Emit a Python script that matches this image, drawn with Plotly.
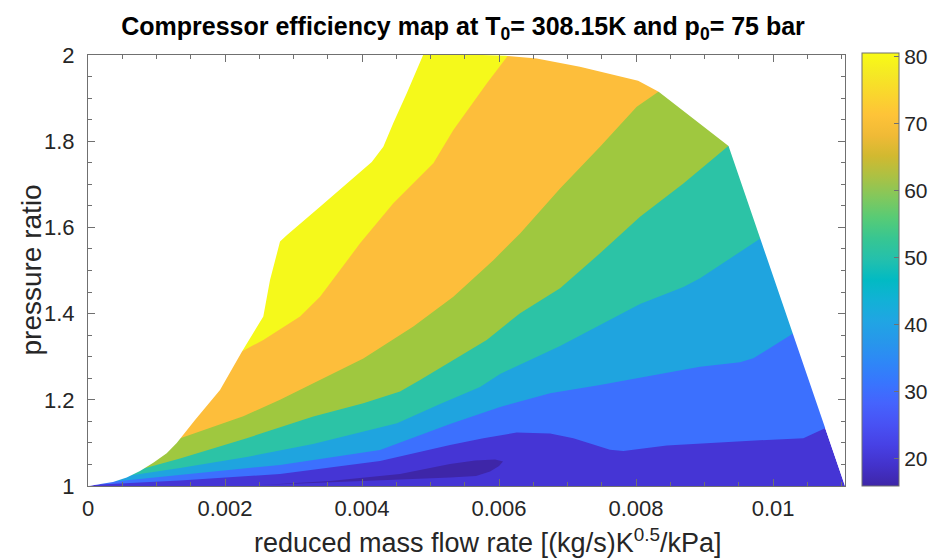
import plotly.graph_objects as go

# ---------------- data ----------------
# outer boundary of the map (left curve, top, right edge)
edge_x = [0, 0.000175, 0.000365, 0.000565, 0.000759, 0.000953, 0.001149, 0.001295, 0.001441, 0.001562,
          0.001927, 0.002244, 0.002559, 0.002657, 0.002803, 0.002901, 0.003387, 0.003777, 0.004142,
          0.004311, 0.004457, 0.004653, 0.004905, 0.0061, 0.00655, 0.00718, 0.00803, 0.00833, 0.00935, 0.01105]
edge_y = [1.0, 1.004, 1.009, 1.020, 1.035, 1.054, 1.076, 1.100, 1.130, 1.153,
          1.223, 1.311, 1.393, 1.478, 1.567, 1.582, 1.648, 1.702, 1.752,
          1.787, 1.842, 1.911, 2.005, 1.998, 1.992, 1.973, 1.940, 1.915, 1.789, 1.0]

# region below 20 % (closed blob)
blob_x = [0.002540, 0.003533, 0.004555, 0.005285, 0.005650, 0.005942, 0.006058, 0.006000, 0.005869,
          0.005664, 0.005285, 0.004555, 0.003533, 0.002540]
blob_y = [1.0023, 1.0116, 1.0278, 1.0510, 1.0592, 1.0615, 1.0568, 1.0464, 1.0336,
          1.0232, 1.0197, 1.0151, 1.0070, 1.0023]

# contour lines (efficiency levels, %)
c30_x = [0.000175, 0.001343, 0.002803, 0.004263, 0.005285, 0.005771, 0.006258, 0.006745, 0.007085,
         0.007620, 0.007815, 0.008448, 0.009908, 0.010442, 0.010774]
c30_y = [1.0035, 1.0128, 1.0278, 1.058, 1.095, 1.111, 1.124, 1.122, 1.111,
         1.084, 1.081, 1.094, 1.107, 1.111, 1.135]

c40_x = [0.000248, 0.001343, 0.002803, 0.004263, 0.005285, 0.006015, 0.006745, 0.007474, 0.007961,
         0.008934, 0.009518, 0.009712, 0.010304]
c40_y = [1.008, 1.0255, 1.049, 1.0835, 1.1439, 1.1833, 1.2151, 1.2343, 1.2483,
         1.2768, 1.2870, 1.2963, 1.355]

c50_x = [0.000467, 0.001343, 0.002317, 0.003285, 0.004511, 0.005139, 0.005723, 0.006015, 0.006891,
         0.008058, 0.008691, 0.008934, 0.009825]
c50_y = [1.0209, 1.0418, 1.0673, 1.0974, 1.1455, 1.1903, 1.2297, 1.2600, 1.3248,
         1.4223, 1.4617, 1.4819, 1.5754]

c60_x = [0.000734, 0.001343, 0.002317, 0.003289, 0.004019, 0.004555, 0.004847, 0.005333, 0.005820,
         0.006307, 0.006891, 0.007474, 0.008058, 0.008691, 0.009347]
c60_y = [1.037, 1.064, 1.111, 1.161, 1.192, 1.219, 1.246, 1.292, 1.339,
         1.401, 1.459, 1.540, 1.625, 1.702, 1.789]

c70_x = [0.001295, 0.001829, 0.002267, 0.002803, 0.003387, 0.004019, 0.004749, 0.005333, 0.005917,
         0.006307, 0.006891, 0.007474, 0.008010, 0.008326]
c70_y = [1.108, 1.138, 1.162, 1.200, 1.246, 1.296, 1.370, 1.439, 1.524,
         1.586, 1.690, 1.787, 1.880, 1.915]

c80_x = [0.002244, 0.002559, 0.003095, 0.003387, 0.003971, 0.004457, 0.005041, 0.005333, 0.005820, 0.006136]
c80_y = [1.312, 1.339, 1.393, 1.439, 1.563, 1.656, 1.749, 1.826, 1.934, 2.000]

levels = [30, 40, 50, 60, 70, 80]
band_colors = {15: "#3E26A8", 20: "#4535D5", 30: "#3C70FE", 40: "#1FA4DF",
               50: "#2CC3A6", 60: "#9FC83F", 70: "#FDBE3B", 80: "#F5F91B"}

x_ticks = [0, 0.002, 0.004, 0.006, 0.008, 0.01]
x_labels = ["0", "0.002", "0.004", "0.006", "0.008", "0.01"]
y_ticks = [1, 1.2, 1.4, 1.6, 1.8, 2]
y_labels = ["1", "1.2", "1.4", "1.6", "1.8", "2"]
cb_ticks = [20, 30, 40, 50, 60, 70, 80]
c_min, c_max = 15.9, 80.5

# parula colormap
parula = [
    (0.2422, 0.1504, 0.6603), (0.2647, 0.1978, 0.7952), (0.2783, 0.2559, 0.8991), (0.2810, 0.3228, 0.9579),
    (0.2699, 0.3892, 0.9906), (0.2206, 0.4603, 0.9973), (0.1786, 0.5289, 0.9682), (0.1540, 0.5902, 0.9218),
    (0.1248, 0.6459, 0.8883), (0.0689, 0.6948, 0.8394), (0.0067, 0.7297, 0.7635), (0.1408, 0.7522, 0.6753),
    (0.2161, 0.7752, 0.5736), (0.3406, 0.7942, 0.4641), (0.5044, 0.7845, 0.3658), (0.6720, 0.7563, 0.2666),
    (0.8203, 0.7239, 0.1888), (0.9393, 0.7288, 0.2100), (0.9970, 0.7659, 0.2199), (0.9786, 0.8386, 0.1766),
    (0.9597, 0.9135, 0.1423), (0.9769, 0.9839, 0.0805)]
n = len(parula)
colorscale = [[i / (n - 1), "rgb(%d,%d,%d)" % tuple(round(255 * c) for c in col)] for i, col in enumerate(parula)]

FONT = "Liberation Sans, Arial, sans-serif"
AX = "#707070"
TXT = "#262626"

fig = go.Figure()

# base band (20-30) covering the whole map
fig.add_trace(go.Scatter(x=edge_x, y=edge_y, mode="lines", fill="toself", fillcolor=band_colors[20],
                         line=dict(width=0), hoverinfo="skip", showlegend=False))
# below 20
fig.add_trace(go.Scatter(x=blob_x, y=blob_y, mode="lines", fill="toself", fillcolor=band_colors[15],
                         line=dict(width=0), hoverinfo="skip", showlegend=False))

lines = {30: (c30_x, c30_y), 40: (c40_x, c40_y), 50: (c50_x, c50_y),
         60: (c60_x, c60_y), 70: (c70_x, c70_y), 80: (c80_x, c80_y)}
for lev in levels:
    lx, ly = lines[lev]
    px = list(lx) + [lx[-1] + 0.0004, lx[-1] + 0.0004, -0.002, -0.002]
    py = list(ly) + [ly[-1], 3.0, 3.0, ly[0]]
    fig.add_trace(go.Scatter(x=px, y=py, mode="lines", fill="toself", fillcolor=band_colors[lev],
                             line=dict(width=0), hoverinfo="skip", showlegend=False))

# white mask outside the map
mx = list(edge_x) + [0.0125, 0.0125, -0.002, -0.002]
my = list(edge_y) + [1.0, 3.0, 3.0, 1.0]
fig.add_trace(go.Scatter(x=mx, y=my, mode="lines", fill="toself", fillcolor="white",
                         line=dict(width=0), hoverinfo="skip", showlegend=False))

# colorbar holder
fig.add_trace(go.Scatter(x=[0.005, 0.005], y=[1.5, 1.5], mode="markers",
                         marker=dict(size=0.1, opacity=0, color=[c_min, c_max], cmin=c_min, cmax=c_max,
                                     colorscale=colorscale, showscale=True,
                                     colorbar=dict(x=1.0225, xanchor="left", y=0, yanchor="bottom",
                                                   len=1.005, lenmode="fraction", thickness=37,
                                                   thicknessmode="pixels", xpad=0, ypad=0,
                                                   outlinecolor=AX, outlinewidth=1,
                                                   tickvals=cb_ticks, ticktext=[str(t) for t in cb_ticks],
                                                   ticks="inside", ticklen=5, tickcolor=AX,
                                                   tickfont=dict(family=FONT, size=21, color=TXT))),
                         hoverinfo="skip", showlegend=False))

axis_common = dict(showgrid=False, zeroline=False, showline=True, linecolor=AX, linewidth=1,
                   mirror="allticks", ticks="inside", ticklen=7, tickcolor=AX,
                   tickfont=dict(family=FONT, size=22, color=TXT))

fig.update_layout(
    width=948, height=560,
    margin=dict(l=88, r=103, t=55, b=74),
    paper_bgcolor="white", plot_bgcolor="white",
    title=dict(text="<b>Compressor efficiency map at T<sub>0</sub>= 308.15K and p<sub>0</sub>= 75 bar</b>",
               x=(463 - 88) / 757, xref="paper", xanchor="center", y=1 - 26 / 560, yanchor="middle",
               font=dict(family=FONT, size=25, color="black")),
    xaxis=dict(range=[0, 0.01105], tickvals=x_ticks, ticktext=x_labels, ticklabelstandoff=3,
               minor=dict(dtick=0.0005, tick0=0, ticks="inside", ticklen=4, tickcolor=AX),
               **axis_common),
    yaxis=dict(range=[1, 2], tickvals=y_ticks, ticktext=y_labels, ticklabelstandoff=8,
               minor=dict(dtick=0.05, tick0=1, ticks="inside", ticklen=4, tickcolor=AX),
               **axis_common),
    annotations=[
        dict(text="reduced mass flow rate [(kg/s)K<sup>0.5</sup>/kPa]", xref="paper", yref="paper",
             x=(487 - 88) / 757, y=-(541 - 486) / 431, xanchor="center", yanchor="middle",
             showarrow=False, font=dict(family=FONT, size=27, color=TXT)),
        dict(text="pressure ratio", xref="paper", yref="paper", textangle=-90,
             x=(31 - 88) / 757, y=0.5, xanchor="center", yanchor="middle",
             showarrow=False, font=dict(family=FONT, size=28, color=TXT)),
    ],
)

fig.write_html("out.html")
